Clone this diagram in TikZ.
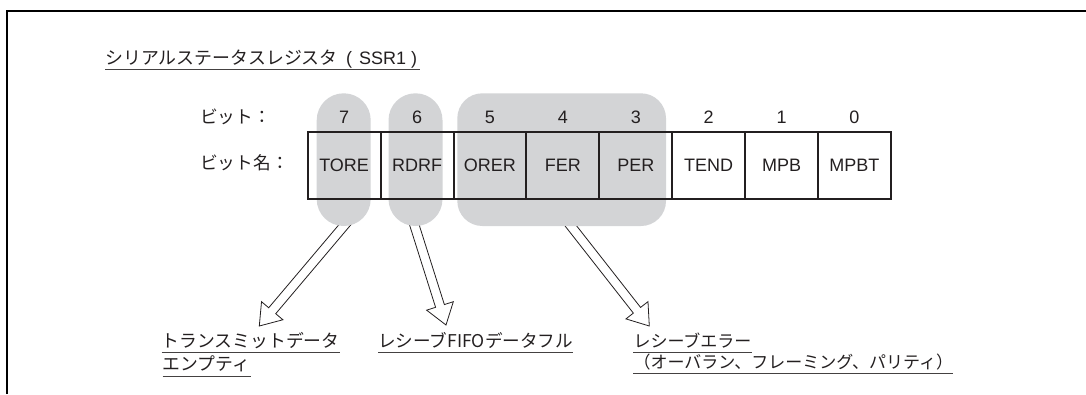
\documentclass[tikz,border=0pt]{standalone}
\usepackage{fontspec}
\setmainfont{Liberation Sans}
\newfontfamily\jp{Noto Sans CJK JP}
\usetikzlibrary{calc}
\definecolor{pillgrey}{RGB}{211,212,214}
\definecolor{ink}{RGB}{35,31,32}
\newcommand\hollowarrow[2]{%
  \path (#1) coordinate (ha-s) (#2) coordinate (ha-e);
  \path ($(ha-e)!20pt!(ha-s)$) coordinate (ha-h);
  \draw[harrow] ($(ha-s)!4.6pt!90:(ha-e)$) -- ($(ha-h)!4.6pt!90:(ha-e)$) --
    ($(ha-h)!14pt!90:(ha-e)$) -- (ha-e) -- ($(ha-h)!14pt!-90:(ha-e)$) --
    ($(ha-h)!4.6pt!-90:(ha-e)$) -- ($(ha-s)!4.6pt!-90:(ha-e)$) -- cycle;
}
\begin{document}
\begin{tikzpicture}[x=1pt,y=-1pt,
  cell/.style={draw=ink, line width=2pt, minimum width=72.9pt, minimum height=67.6pt, inner sep=0pt, font=\fontsize{18}{18}\selectfont, text=ink},
  bitnum/.style={font=\fontsize{18}{18}\selectfont, text=ink, inner sep=0pt},
  pill/.style={fill=pillgrey, rounded corners=26.9pt, minimum width=54pt, minimum height=132.7pt, inner sep=0pt},
  jphead/.style={font=\jp\fontsize{17.7}{17.7}\selectfont, text=ink, inner sep=0pt},
  jplabel/.style={font=\jp\fontsize{17.3}{17.3}\selectfont, text=ink, inner sep=0pt, anchor=base west},
  uline/.style={draw=ink!85, line width=1.1pt},
  harrow/.style={draw=ink, line width=0.8pt, fill=white, line join=miter},
  frame/.style={draw=black, line width=2.7pt}
]
\useasboundingbox (0,0) rectangle (1086,394);
% frame
\draw[frame] (7,394) -- (7,11) -- (1086,11);
% title
\node[jphead, anchor=base west] (title) at (105,64.5) {\fontsize{17.9}{17.9}\selectfont シリアルステータスレジスタ\hspace{8.5pt}{\rmfamily\fontsize{18}{18}\selectfont(\hspace{7pt}SSR1\hspace{5pt})}};
\draw[uline] ($(title.base west)+(0,5)$) -- ($(title.base east)+(2.5,5)$);
% row labels
\node[jphead, anchor=west] (lbit) at (200,117) {ビット：};
\node[jphead, anchor=west] (lname) at (200,163) {ビット名：};
% arrow end points
\coordinate (s1) at (348.9,220);
\coordinate (t1) at (259.3,326);
\coordinate (s2) at (412.8,220);
\coordinate (t2) at (446,325);
\coordinate (s3) at (566.2,220);
\coordinate (t3) at (649.3,326);
\hollowarrow{s1}{t1}
\hollowarrow{s2}{t2}
\hollowarrow{s3}{t3}
% grey groups
\node[pill] (p7) at (343.7,159.65) {};
\node[pill] (p6) at (415.5,159.65) {};
\node[pill, rounded corners=25pt, minimum width=208.7pt] (pg) at (561.65,159.65) {};
% cells
\foreach \i/\nm/\x in {7/TORE/344.15, 6/RDRF/417.05, 5/ORER/489.95, 4/FER/562.85, 3/PER/635.75, 2/TEND/708.65, 1/MPB/781.55, 0/MPBT/854.45}{
  \node[cell] (c\i) at (\x,165.5) {\nm};
  \node[bitnum] (b\i) at (\x,117) {\i};
}
% bottom labels
\node[jplabel, font=\jp\fontsize{17.8}{17.8}\selectfont] (l1a) at (161.7,347) {トランスミットデータ};
\draw[uline] ($(l1a.base west)+(0,5.7)$) -- ($(l1a.base east)+(0,5.7)$);
\node[jplabel, font=\jp\fontsize{17.8}{17.8}\selectfont] (l1b) at (162.7,370.5) {エンプティ};
\draw[uline] ($(l1b.base west)+(0,6)$) -- ($(l1b.base east)+(0,6)$);
\node[jplabel, font=\jp\fontsize{17.6}{17.6}\selectfont] (l2) at (378,347) {レシーブFIFOデータフル};
\draw[uline] ($(l2.base west)+(0,5.7)$) -- ($(l2.base east)+(0,5.7)$);
\node[jplabel, font=\jp\fontsize{17}{17}\selectfont] (l3a) at (633.3,347) {レシーブエラー};
\draw[uline] ($(l3a.base west)+(0,5.3)$) -- ($(l3a.base east)+(0,5.3)$);
\node[jplabel, font=\jp\fontsize{17}{17}\selectfont] (l3b) at (633.3,368) {（オーバラン、フレーミング、パリティ）};
\draw[uline] ($(l3b.base west)+(0,5.3)$) -- ($(l3b.base east)+(0,5.3)$);
\end{tikzpicture}
\end{document}
